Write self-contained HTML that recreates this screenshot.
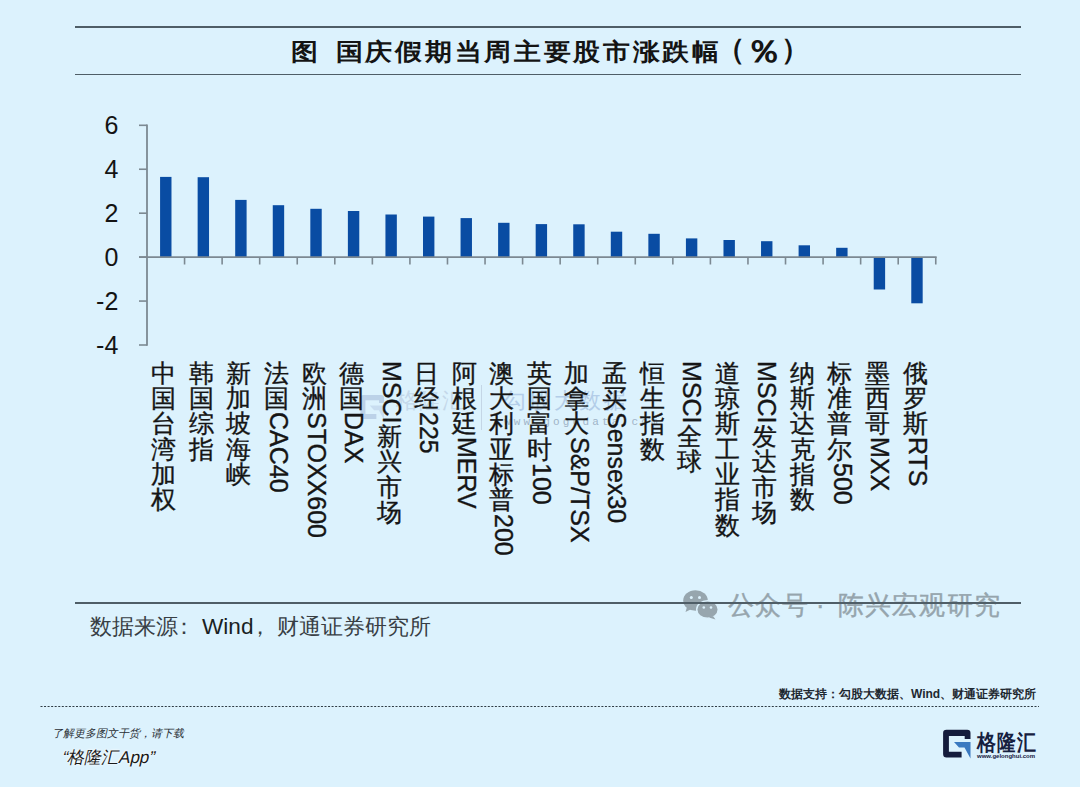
<!DOCTYPE html>
<html><head><meta charset="utf-8"><style>
html,body{margin:0;padding:0;}
body{width:1080px;height:787px;background:#dcf2fd;position:relative;overflow:hidden;font-family:"Liberation Sans",sans-serif;}
.abs{position:absolute;}
.hl{position:absolute;height:1.8px;background:#4f5e67;}
.title{position:absolute;top:34px;font-family:"Liberation Sans",sans-serif;font-weight:bold;font-size:24px;letter-spacing:5.7px;color:#141414;white-space:nowrap;line-height:34px;}
.tc{display:inline-block;width:29.7px;text-align:center;letter-spacing:0;transform:scaleX(1.12);}
.yl{position:absolute;width:118.3px;left:0;text-align:right;font-size:25px;line-height:30px;color:#141414;}
.xl{position:absolute;top:360.5px;width:30px;display:flex;flex-direction:column;align-items:center;font-size:24.6px;color:#151515;white-space:nowrap;-webkit-text-stroke:0.35px #151515;}
.cj{height:25.4px;line-height:25.4px;width:30px;text-align:center;}
.lr{writing-mode:vertical-rl;text-orientation:mixed;line-height:30px;width:30px;margin-top:0.8px;font-size:25px;position:relative;left:2.7px;}
.src{position:absolute;top:612.5px;font-family:"Liberation Sans",sans-serif;font-size:22px;line-height:28px;color:#383e44;white-space:nowrap;}
.src b{font-family:"Liberation Sans",sans-serif;font-weight:normal;font-size:21.5px;color:#1a1f23;}
.wm{position:absolute;top:590px;font-size:25.5px;line-height:30px;color:#96a5ad;-webkit-text-stroke:0.4px #96a5ad;white-space:nowrap;letter-spacing:1.3px;}
.sup{position:absolute;right:43.8px;top:686px;font-size:12px;line-height:16px;font-weight:bold;color:#1e2830;white-space:nowrap;}
.dl1{position:absolute;left:51px;top:724.5px;font-size:11px;line-height:16px;transform:skewX(-13deg);transform-origin:0 100%;color:#2a2f35;white-space:nowrap;}
.dl2{position:absolute;left:60.3px;top:746.5px;font-size:17px;line-height:22px;transform:skewX(-13deg);transform-origin:0 100%;color:#1a1a1a;white-space:nowrap;text-shadow:0 0 3px #fff,0 0 2px #fff;}
.lg1{position:absolute;left:976px;top:730px;font-size:22px;line-height:26px;font-weight:bold;color:#16203f;white-space:nowrap;}
.lc{display:inline-block;width:20px;text-align:center;transform:scaleX(0.86);}
.lg2{position:absolute;left:977px;top:752px;font-size:6px;line-height:8px;font-weight:bold;color:#16203f;white-space:nowrap;}
</style></head><body>
<div class="hl" style="left:75px;top:25.9px;width:946px"></div>
<div class="hl" style="left:75px;top:73.7px;width:946px"></div>
<div class="title" style="left:289.75px;top:35px"><span class="tc">图</span></div><div class="title" style="left:334.75px;top:35px"><span class="tc">国</span><span class="tc">庆</span><span class="tc">假</span><span class="tc">期</span><span class="tc">当</span><span class="tc">周</span><span class="tc">主</span><span class="tc">要</span><span class="tc">股</span><span class="tc">市</span><span class="tc">涨</span><span class="tc">跌</span><span class="tc">幅</span></div><div class="title" style="left:716px;top:31.5px;font-size:29px;letter-spacing:0">（</div><div class="title" style="left:747.5px;top:35px;font-size:31px;letter-spacing:0;transform:scaleX(1.2);transform-origin:16px 0">％</div><div class="title" style="left:780.5px;top:31.5px;font-size:29px;letter-spacing:0">）</div>
<svg class="abs" style="left:0;top:0" width="1080" height="787" viewBox="0 0 1080 787">
<line x1="147.0" y1="124.6" x2="147.0" y2="345.8" stroke="#7c8992" stroke-width="1.8"/><line x1="139" y1="125.30" x2="147.0" y2="125.30" stroke="#7c8992" stroke-width="1.6"/><line x1="139" y1="169.24" x2="147.0" y2="169.24" stroke="#7c8992" stroke-width="1.6"/><line x1="139" y1="213.18" x2="147.0" y2="213.18" stroke="#7c8992" stroke-width="1.6"/><line x1="139" y1="257.12" x2="147.0" y2="257.12" stroke="#7c8992" stroke-width="1.6"/><line x1="139" y1="301.06" x2="147.0" y2="301.06" stroke="#7c8992" stroke-width="1.6"/><line x1="139" y1="345.00" x2="147.0" y2="345.00" stroke="#7c8992" stroke-width="1.6"/><rect x="160.08" y="176.90" width="11.4" height="80.30" fill="#094ca3"/><rect x="197.64" y="177.20" width="11.4" height="80.00" fill="#094ca3"/><rect x="235.20" y="199.90" width="11.4" height="57.30" fill="#094ca3"/><rect x="272.76" y="205.20" width="11.4" height="52.00" fill="#094ca3"/><rect x="310.32" y="208.80" width="11.4" height="48.40" fill="#094ca3"/><rect x="347.88" y="211.00" width="11.4" height="46.20" fill="#094ca3"/><rect x="385.44" y="214.50" width="11.4" height="42.70" fill="#094ca3"/><rect x="423.00" y="216.60" width="11.4" height="40.60" fill="#094ca3"/><rect x="460.56" y="218.10" width="11.4" height="39.10" fill="#094ca3"/><rect x="498.12" y="222.80" width="11.4" height="34.40" fill="#094ca3"/><rect x="535.68" y="224.10" width="11.4" height="33.10" fill="#094ca3"/><rect x="573.24" y="224.30" width="11.4" height="32.90" fill="#094ca3"/><rect x="610.80" y="231.70" width="11.4" height="25.50" fill="#094ca3"/><rect x="648.36" y="233.80" width="11.4" height="23.40" fill="#094ca3"/><rect x="685.92" y="238.40" width="11.4" height="18.80" fill="#094ca3"/><rect x="723.48" y="240.00" width="11.4" height="17.20" fill="#094ca3"/><rect x="761.04" y="241.20" width="11.4" height="16.00" fill="#094ca3"/><rect x="798.60" y="245.30" width="11.4" height="11.90" fill="#094ca3"/><rect x="836.16" y="247.80" width="11.4" height="9.40" fill="#094ca3"/><rect x="873.72" y="257.20" width="11.4" height="32.30" fill="#094ca3"/><rect x="911.28" y="257.20" width="11.4" height="46.10" fill="#094ca3"/><line x1="139" y1="257.2" x2="936.66" y2="257.2" stroke="#7c8992" stroke-width="1.8"/><line x1="184.56" y1="257.2" x2="184.56" y2="264.5" stroke="#7c8992" stroke-width="1.6"/><line x1="222.12" y1="257.2" x2="222.12" y2="264.5" stroke="#7c8992" stroke-width="1.6"/><line x1="259.68" y1="257.2" x2="259.68" y2="264.5" stroke="#7c8992" stroke-width="1.6"/><line x1="297.24" y1="257.2" x2="297.24" y2="264.5" stroke="#7c8992" stroke-width="1.6"/><line x1="334.80" y1="257.2" x2="334.80" y2="264.5" stroke="#7c8992" stroke-width="1.6"/><line x1="372.36" y1="257.2" x2="372.36" y2="264.5" stroke="#7c8992" stroke-width="1.6"/><line x1="409.92" y1="257.2" x2="409.92" y2="264.5" stroke="#7c8992" stroke-width="1.6"/><line x1="447.48" y1="257.2" x2="447.48" y2="264.5" stroke="#7c8992" stroke-width="1.6"/><line x1="485.04" y1="257.2" x2="485.04" y2="264.5" stroke="#7c8992" stroke-width="1.6"/><line x1="522.60" y1="257.2" x2="522.60" y2="264.5" stroke="#7c8992" stroke-width="1.6"/><line x1="560.16" y1="257.2" x2="560.16" y2="264.5" stroke="#7c8992" stroke-width="1.6"/><line x1="597.72" y1="257.2" x2="597.72" y2="264.5" stroke="#7c8992" stroke-width="1.6"/><line x1="635.28" y1="257.2" x2="635.28" y2="264.5" stroke="#7c8992" stroke-width="1.6"/><line x1="672.84" y1="257.2" x2="672.84" y2="264.5" stroke="#7c8992" stroke-width="1.6"/><line x1="710.40" y1="257.2" x2="710.40" y2="264.5" stroke="#7c8992" stroke-width="1.6"/><line x1="747.96" y1="257.2" x2="747.96" y2="264.5" stroke="#7c8992" stroke-width="1.6"/><line x1="785.52" y1="257.2" x2="785.52" y2="264.5" stroke="#7c8992" stroke-width="1.6"/><line x1="823.08" y1="257.2" x2="823.08" y2="264.5" stroke="#7c8992" stroke-width="1.6"/><line x1="860.64" y1="257.2" x2="860.64" y2="264.5" stroke="#7c8992" stroke-width="1.6"/><line x1="898.20" y1="257.2" x2="898.20" y2="264.5" stroke="#7c8992" stroke-width="1.6"/><line x1="935.76" y1="257.2" x2="935.76" y2="264.5" stroke="#7c8992" stroke-width="1.6"/>
</svg>
<div class="yl" style="top:109.8px">6</div><div class="yl" style="top:153.7px">4</div><div class="yl" style="top:197.7px">2</div><div class="yl" style="top:241.6px">0</div><div class="yl" style="top:285.6px">-2</div><div class="yl" style="top:329.5px">-4</div>
<svg class="abs" style="left:356px;top:385px" width="30" height="40" viewBox="0 0 40 40"><g transform="translate(0,0) scale(1.15)" opacity="0.9"><path d="M5.1,9 Q5.1,5.8 8.5,5.8 L29.2,5.8 Q32.5,5.8 32.5,9 L32.5,15 L26.7,15 L26.7,11.9 L10.9,11.9 L10.9,27.7 L23.6,27.7 L23.6,33.5 L8.5,33.5 Q5.1,33.5 5.1,30 Z" fill="#b9cfe6"/><path d="M16,18 L32.5,18 L32.5,34.6 L26.5,23.4 L21,23.4 Z" fill="#c6dbef"/></g></svg>
<div class="abs" style="left:396px;top:388px;font-size:22px;line-height:26px;color:#c4d8ea;white-space:nowrap;letter-spacing:1px">格隆汇</div>
<div class="abs" style="left:480.5px;top:385px;width:1px;height:45px;background:#c4d6e6"></div>
<div class="abs" style="left:504px;top:388px;font-size:22px;line-height:26px;color:#b3cde8;white-space:nowrap;letter-spacing:3px">勾股大数据</div>
<div class="abs" style="left:504px;top:415px;font-size:11px;line-height:14px;color:#9fb4c8;white-space:nowrap;letter-spacing:3.2px;font-family:'Liberation Mono',monospace">www.gogudata.com</div>
<div class="xl" style="left:148.8px"><div class="cj">中</div><div class="cj">国</div><div class="cj">台</div><div class="cj">湾</div><div class="cj">加</div><div class="cj">权</div></div><div class="xl" style="left:186.3px"><div class="cj">韩</div><div class="cj">国</div><div class="cj">综</div><div class="cj">指</div></div><div class="xl" style="left:223.9px"><div class="cj">新</div><div class="cj">加</div><div class="cj">坡</div><div class="cj">海</div><div class="cj">峡</div></div><div class="xl" style="left:261.5px"><div class="cj">法</div><div class="cj">国</div><div class="lr">CAC40</div></div><div class="xl" style="left:299.0px"><div class="cj">欧</div><div class="cj">洲</div><div class="lr">STOXX600</div></div><div class="xl" style="left:336.6px"><div class="cj">德</div><div class="cj">国</div><div class="lr">DAX</div></div><div class="xl" style="left:374.1px"><div class="lr">MSCI</div><div class="cj">新</div><div class="cj">兴</div><div class="cj">市</div><div class="cj">场</div></div><div class="xl" style="left:411.7px"><div class="cj">日</div><div class="cj">经</div><div class="lr">225</div></div><div class="xl" style="left:449.3px"><div class="cj">阿</div><div class="cj">根</div><div class="cj">廷</div><div class="lr">MERV</div></div><div class="xl" style="left:486.8px"><div class="cj">澳</div><div class="cj">大</div><div class="cj">利</div><div class="cj">亚</div><div class="cj">标</div><div class="cj">普</div><div class="lr">200</div></div><div class="xl" style="left:524.4px"><div class="cj">英</div><div class="cj">国</div><div class="cj">富</div><div class="cj">时</div><div class="lr">100</div></div><div class="xl" style="left:561.9px"><div class="cj">加</div><div class="cj">拿</div><div class="cj">大</div><div class="lr">S&amp;P/TSX</div></div><div class="xl" style="left:599.5px"><div class="cj">孟</div><div class="cj">买</div><div class="lr">Sensex30</div></div><div class="xl" style="left:637.1px"><div class="cj">恒</div><div class="cj">生</div><div class="cj">指</div><div class="cj">数</div></div><div class="xl" style="left:674.6px"><div class="lr">MSCI</div><div class="cj">全</div><div class="cj">球</div></div><div class="xl" style="left:712.2px"><div class="cj">道</div><div class="cj">琼</div><div class="cj">斯</div><div class="cj">工</div><div class="cj">业</div><div class="cj">指</div><div class="cj">数</div></div><div class="xl" style="left:749.7px"><div class="lr">MSCI</div><div class="cj">发</div><div class="cj">达</div><div class="cj">市</div><div class="cj">场</div></div><div class="xl" style="left:787.3px"><div class="cj">纳</div><div class="cj">斯</div><div class="cj">达</div><div class="cj">克</div><div class="cj">指</div><div class="cj">数</div></div><div class="xl" style="left:824.9px"><div class="cj">标</div><div class="cj">准</div><div class="cj">普</div><div class="cj">尔</div><div class="lr">500</div></div><div class="xl" style="left:862.4px"><div class="cj">墨</div><div class="cj">西</div><div class="cj">哥</div><div class="lr">MXX</div></div><div class="xl" style="left:900.0px"><div class="cj">俄</div><div class="cj">罗</div><div class="cj">斯</div><div class="lr">RTS</div></div>
<svg class="abs" style="left:680px;top:588px" width="42" height="34" viewBox="0 0 42 34">
<ellipse cx="15.5" cy="12.5" rx="12.3" ry="10.2" fill="#97a6ae"/>
<path d="M7,19 L5.5,24 L11.5,21 Z" fill="#97a6ae"/>
<ellipse cx="27.5" cy="21.5" rx="10.8" ry="8.8" fill="#97a6ae" stroke="#dcf2fd" stroke-width="1.5"/>
<path d="M33,28 L35.5,31.5 L29,29.5 Z" fill="#97a6ae"/>
<circle cx="11.3" cy="9.5" r="1.5" fill="#dcf2fd"/><circle cx="19.5" cy="9.5" r="1.5" fill="#dcf2fd"/>
<circle cx="23.8" cy="19.5" r="1.3" fill="#dcf2fd"/><circle cx="31" cy="19.5" r="1.3" fill="#dcf2fd"/>
</svg>
<div class="wm" style="left:727.5px">公众号</div>
<div class="wm" style="left:816px">·</div>
<div class="wm" style="left:837.5px">陈兴宏观研究</div>
<div class="hl" style="left:75px;top:602.3px;width:946px"></div>
<div class="src" style="left:89.8px">数据来源</div><div class="src" style="left:173.3px">：</div><div class="src" style="left:202px;font-family:'Liberation Sans',sans-serif;font-size:22.6px;color:#1a1f23">Wind</div><div class="src" style="left:249px">，</div><div class="src" style="left:276.5px">财通证券研究所</div>
<svg class="abs" style="left:0;top:700px" width="1080" height="14" viewBox="0 700 1080 14">
<line x1="40.5" y1="706.5" x2="1039" y2="706.5" stroke="#2e3b43" stroke-width="1" stroke-dasharray="2 1.55"/>
</svg>
<div class="sup">数据支持：勾股大数据、Wind、财通证券研究所</div>
<div class="dl1">了解更多图文干货，请下载</div>
<div class="dl2">“格隆汇App”</div>
<svg class="abs" style="left:938px;top:724px" width="40" height="40" viewBox="0 0 40 40">
<path d="M5.1,9 Q5.1,5.8 8.5,5.8 L29.2,5.8 Q32.5,5.8 32.5,9 L32.5,15 L26.7,15 L26.7,11.9 L10.9,11.9 L10.9,27.7 L23.6,27.7 L23.6,33.5 L8.5,33.5 Q5.1,33.5 5.1,30 Z" fill="#141c3c"/>
<path d="M16,18 L32.5,18 L32.5,34.6 L26.5,23.4 L21,23.4 Z" fill="#3a79c0"/>
</svg>
<div class="lg1"><span class="lc">格</span><span class="lc">隆</span><span class="lc">汇</span></div>
<div class="lg2">www.gelonghui.com</div>
</body></html>
